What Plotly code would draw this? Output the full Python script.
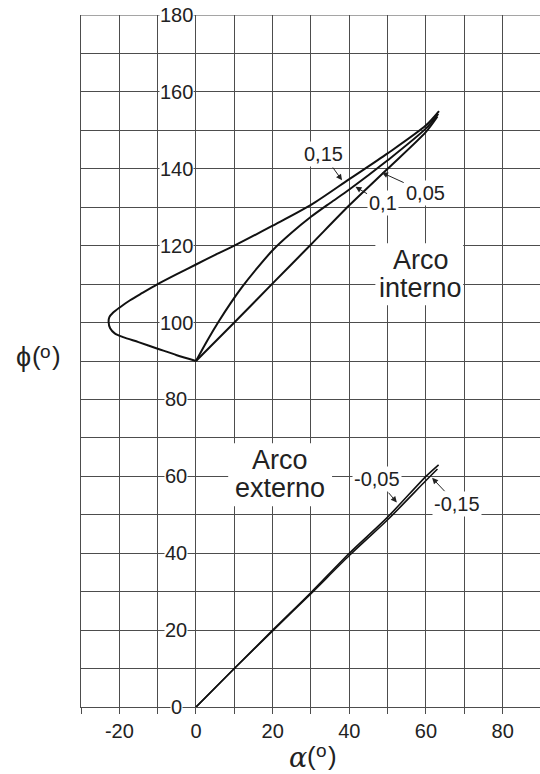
import plotly.graph_objects as go

# Arco interno: phi(alpha) for the three positive ratios
int_015_a = [0, -5, -10, -15, -19, -21.2, -22.4, -22.8, -22.6, -21.6, -19.8, -17.2, -14, -10, -5, 0, 5, 10, 20, 30, 40, 50, 60, 63.4]
int_015_p = [90, 91.5, 93.2, 94.9, 96.2, 97.2, 98.5, 100.2, 101.4, 102.6, 104.0, 105.8, 107.7, 110, 112.6, 115.1, 117.6, 120, 125.2, 130.6, 137.3, 144.0, 151.3, 155.0]
int_010_a = [0, 3, 6, 9, 12, 16, 20, 25, 30, 35, 40, 50, 60, 63.2]
int_010_p = [90, 95.4, 100.4, 105.0, 109.2, 114.2, 118.8, 123.4, 127.5, 131.1, 134.6, 142.2, 150.5, 154.3]
int_005_a = [0, 10, 20, 30, 40, 50, 60, 63.0]
int_005_p = [90, 100, 110.2, 120.3, 130.5, 140, 149.6, 153.6]

# Arco externo: phi(alpha) for the two negative ratios
ext_005_a = [0, 10, 20, 30, 40, 50, 60, 63.3]
ext_005_p = [0, 10, 20, 29.8, 40, 49.4, 60, 63.0]
ext_015_a = [0, 10, 20, 30, 40, 50, 60, 63.0]
ext_015_p = [0, 10, 19.8, 29.5, 39.4, 48.7, 58.9, 61.9]

x_labels = [-20, 0, 20, 40, 60, 80]
y_labels = list(range(0, 200, 20))

# curve labels: text, label centre, arrow head on the curve
curve_labels = ["0,15", "0,1", "0,05", "-0,05", "-0,15"]
label_pos = [(33.2, 143.8), (48.9, 131.0), (59.9, 133.8), (47.3, 59.2), (68.1, 52.7)]
arrow_head = [(38.1, 137.0), (41.6, 135.3), (48.5, 139.0), (52.4, 53.2), (61.6, 59.6)]

SANS = "Liberation Sans, Arial, sans-serif"
GRID = "#4d4d4d"
X_MIN, X_MAX, Y_MIN, Y_MAX = -30, 89.75, 0, 180
W, H = 540, 774
M_L, M_R, M_T, M_B = 81, 0, 15, 67


def paper_x(px):
    return (px - M_L) / (W - M_L - M_R)


def paper_y(py):
    return (H - M_B - py) / (H - M_T - M_B)


fig = go.Figure()

for xs, ys, w in [(int_015_a, int_015_p, 2), (int_010_a, int_010_p, 2), (int_005_a, int_005_p, 2),
                  (ext_005_a, ext_005_p, 1.6), (ext_015_a, ext_015_p, 1.6)]:
    fig.add_trace(go.Scatter(x=xs, y=ys, mode="lines",
                             line=dict(color="#111", width=w, shape="spline", smoothing=0.8),
                             hoverinfo="skip", showlegend=False))

annotations = []
# y tick labels sit on the grid just left of alpha = 0
for v in y_labels:
    annotations.append(dict(x=-5.1, y=v, xref="x", yref="y", text=str(v), showarrow=False,
                            font=dict(family=SANS, size=20, color="#222"), bgcolor="white",
                            borderpad=0, xanchor="center", yanchor="middle"))

# curve labels with white backing and a leader arrow to the curve
for txt, (lx, ly), (hx, hy) in zip(curve_labels, label_pos, arrow_head):
    annotations.append(dict(x=hx, y=hy, ax=lx, ay=ly, xref="x", yref="y", axref="x", ayref="y",
                            text=txt, showarrow=True, arrowhead=2, arrowsize=1.2, arrowwidth=1,
                            arrowcolor="#222", standoff=0, startstandoff=1,
                            font=dict(family=SANS, size=20, color="#222"), bgcolor="white",
                            borderpad=1))

# region captions
for txt, x, y in [("Arco", 58.6, 116.4), ("interno", 58.5, 109.0),
                  ("Arco", 22.0, 64.2), ("externo", 21.9, 57.0)]:
    annotations.append(dict(x=x, y=y, xref="x", yref="y", text=txt, showarrow=False,
                            font=dict(family=SANS, size=27, color="#222"),
                            xanchor="center", yanchor="middle"))


def title_piece(txt, px, py, size, family=SANS, style="normal", anchor="center"):
    return dict(x=paper_x(px), y=paper_y(py), xref="paper", yref="paper", text=txt,
                showarrow=False, borderpad=0, xanchor=anchor, yanchor="middle",
                font=dict(family=family, size=size, color="#222", style=style))


# axis title alpha(o), built from pieces so the small raised "o" sits inside the brackets
annotations += [
    title_piece("α", 308, 757, 27, family="DejaVu Serif, serif", style="italic", anchor="right"),
    title_piece("(", 311.5, 756, 26),
    title_piece("o", 321.5, 751, 19),
    title_piece(")", 332.5, 756, 26),
]
# axis title phi(o)
annotations += [
    title_piece("ϕ", 31.5, 357, 27, anchor="right"),
    title_piece("(", 36, 356, 26),
    title_piece("o", 45, 351, 19),
    title_piece(")", 56.5, 356, 26),
]

shapes = [
    # white panels behind the region captions
    dict(type="rect", xref="x", yref="y", x0=46.8, x1=69.7, y0=104.5, y1=120.6,
         fillcolor="white", line=dict(width=0), layer="between"),
    dict(type="rect", xref="x", yref="y", x0=8.4, x1=35.5, y0=52.2, y1=68.6,
         fillcolor="white", line=dict(width=0), layer="between"),
    # top border of the grid
    dict(type="line", xref="x", yref="y", x0=X_MIN, x1=X_MAX, y0=Y_MAX, y1=Y_MAX,
         line=dict(color=GRID, width=1), layer="between"),
]

fig.update_layout(
    width=W, height=H,
    margin=dict(l=M_L, r=M_R, t=M_T, b=M_B),
    paper_bgcolor="white", plot_bgcolor="white",
    showlegend=False,
    annotations=annotations, shapes=shapes,
    xaxis=dict(range=[X_MIN, X_MAX], tickmode="array", tickvals=x_labels,
               ticktext=[str(v) for v in x_labels],
               showgrid=True, gridcolor=GRID, gridwidth=1, zeroline=False,
               showline=True, linecolor=GRID, linewidth=1,
               ticks="outside", ticklen=6, tickcolor=GRID, tickwidth=1,
               minor=dict(tick0=-30, dtick=10, ticks="outside", ticklen=6, tickcolor=GRID,
                          tickwidth=1, showgrid=True, gridcolor=GRID, gridwidth=1),
               tickfont=dict(family=SANS, size=20, color="#222"), fixedrange=True),
    yaxis=dict(range=[Y_MIN, Y_MAX], dtick=10, showgrid=True, gridcolor=GRID, gridwidth=1,
               zeroline=False, showline=True, linecolor=GRID, linewidth=1,
               showticklabels=False, ticks="", fixedrange=True),
)

fig.write_html("out.html")
